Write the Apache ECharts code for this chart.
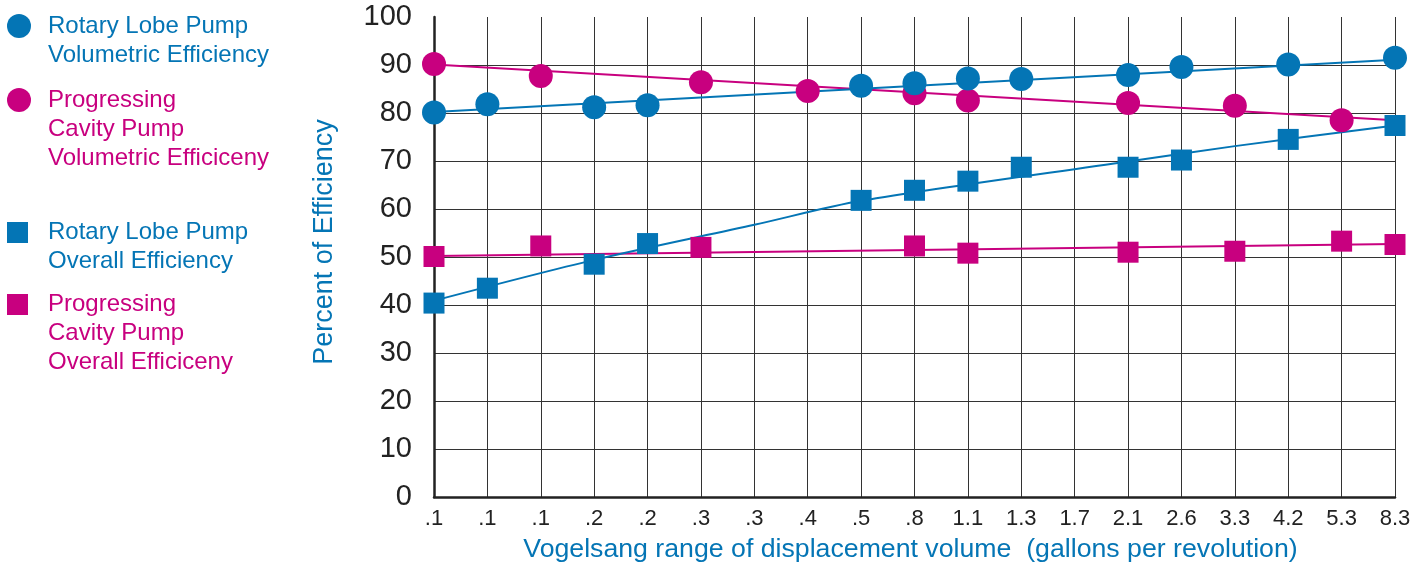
<!DOCTYPE html>
<html>
<head>
<meta charset="utf-8">
<script src="https://cdn.jsdelivr.net/npm/echarts@6/dist/echarts.min.js"></script>
<style>
  html, body { margin: 0; padding: 0; background: #fff; }
  #chart { width: 1424px; height: 565px; }
</style>
</head>
<body>
<div id="chart"></div>
<script>
// x categories (displacement volume, gallons per revolution)
const categories = ['.1', '.1', '.1', '.2', '.2', '.3', '.3', '.4', '.5', '.8', '1.1', '1.3', '1.7', '2.1', '2.6', '3.3', '4.2', '5.3', '8.3'];

// measured points, null where no marker
const rotaryVolumetric = [80.1, 81.8, null, 81.2, 81.6, null, null, null, 85.7, 86.2, 87.2, 87.1, null, 87.9, 89.6, null, 90.1, null, 91.5];
const progressingVolumetric = [90.2, null, 87.7, null, null, 86.4, null, 84.6, null, 84.1, 82.6, null, null, 82.1, null, 81.5, null, 78.5, null];
const rotaryOverall = [40.4, 43.5, null, 48.5, 52.8, null, null, null, 61.8, 63.9, 65.8, 68.7, null, 68.7, 70.2, null, 74.5, null, 77.4];
const progressingOverall = [50.1, null, 52.3, null, null, 52.0, null, null, null, 52.3, 50.8, null, null, 51.0, null, 51.2, null, 53.3, 52.6];

// trend lines
const rotaryVolumetricTrend = [80.2, null, null, null, null, null, null, null, null, null, null, null, null, null, null, null, null, null, 91.1];
const progressingVolumetricTrend = [90.1, null, null, null, null, null, null, null, null, null, null, null, null, null, null, null, null, null, 78.5];
const rotaryOverallTrend = [40.9, null, null, 49.4, null, null, 56.7, null, 61.7, null, null, null, null, 69.9, null, 73.1, null, null, 77.4];
const progressingOverallTrend = [50.2, null, null, null, null, null, null, null, null, null, null, null, null, null, null, null, null, null, 52.7];

const BLUE = '#0475b5';
const MAGENTA = '#c8007f';
const FONT = 'Liberation Sans, Arial, Helvetica, sans-serif';

// legend text lines; blank lines in front keep the icon level with the first line
const legendLabels = {
  'Rotary Lobe Pump Volumetric Efficiency': ['Rotary Lobe Pump', 'Volumetric Efficiency'],
  'Progressing Cavity Pump Volumetric Efficiency': ['Progressing', 'Cavity Pump', 'Volumetric Efficiceny'],
  'Rotary Lobe Pump Overall Efficiency': ['Rotary Lobe Pump', 'Overall Efficiency'],
  'Progressing Cavity Pump Overall Efficiency': ['Progressing', 'Cavity Pump', 'Overall Efficiceny']
};

function legendFor(name, icon, size, color, iconY, padLeft) {
  const lines = legendLabels[name];
  const blank = new Array(lines.length - 1).fill(' ');
  return {
    top: iconY - (2 * lines.length - 1) * 29 / 2,
    left: 7,
    padding: 0,
    selectedMode: false,
    itemWidth: size,
    itemHeight: size,
    icon: icon,
    data: [name],
    formatter: () => blank.concat(lines).join('\n'),
    textStyle: {
      color: color,
      fontSize: 24,
      lineHeight: 29,
      fontFamily: FONT,
      padding: [0, 0, 0, padLeft]
    }
  };
}

function trend(data, color) {
  return {
    type: 'line',
    data: data,
    connectNulls: true,
    showSymbol: false,
    smooth: 0.3,
    silent: true,
    z: 2,
    lineStyle: { color: color, width: 2 }
  };
}

function points(name, data, symbol, size, color) {
  return {
    name: name,
    type: 'scatter',
    data: data,
    symbol: symbol,
    symbolSize: size,
    z: 3,
    itemStyle: { color: color, opacity: 1 }
  };
}

const chart = echarts.init(document.getElementById('chart'), null, { renderer: 'canvas' });
chart.setOption({
  animation: false,
  backgroundColor: '#fff',
  textStyle: { fontFamily: FONT },
  legend: [
    legendFor('Rotary Lobe Pump Volumetric Efficiency', 'circle', 24, BLUE, 26, 12),
    legendFor('Progressing Cavity Pump Volumetric Efficiency', 'circle', 24, MAGENTA, 100, 12),
    legendFor('Rotary Lobe Pump Overall Efficiency', 'rect', 21, BLUE, 232.5, 15),
    legendFor('Progressing Cavity Pump Overall Efficiency', 'rect', 21, MAGENTA, 304.5, 15)
  ],
  grid: { left: 434, right: 29, top: 17, bottom: 68, containLabel: false, outerBoundsMode: 'none' },
  xAxis: {
    type: 'category',
    data: categories,
    boundaryGap: false,
    name: 'Vogelsang range of displacement volume  (gallons per revolution)',
    nameLocation: 'middle',
    nameGap: 39,
    nameTextStyle: { color: BLUE, fontSize: 26.7, fontFamily: FONT, padding: [0, 8, 0, 0] },
    axisLine: { lineStyle: { color: '#222', width: 2.5 } },
    axisTick: { show: false },
    axisLabel: { interval: 0, color: '#222', fontSize: 22, margin: 11, fontFamily: FONT },
    splitLine: { show: true, lineStyle: { color: '#333', width: 1 } }
  },
  yAxis: {
    type: 'value',
    min: 0,
    max: 100,
    interval: 10,
    name: 'Percent of Efficiency',
    nameLocation: 'middle',
    nameGap: 96,
    nameTextStyle: { color: BLUE, fontSize: 27, fontFamily: FONT, padding: [0, 0, 0, 30] },
    axisLine: { show: true, lineStyle: { color: '#222', width: 2.5 } },
    axisTick: { show: false },
    axisLabel: { color: '#222', fontSize: 29, margin: 22, fontFamily: FONT },
    splitLine: { show: true, showMaxLine: false, lineStyle: { color: '#333', width: 1 } }
  },
  series: [
    trend(progressingOverallTrend, MAGENTA),
    trend(rotaryOverallTrend, BLUE),
    trend(progressingVolumetricTrend, MAGENTA),
    trend(rotaryVolumetricTrend, BLUE),
    points('Progressing Cavity Pump Overall Efficiency', progressingOverall, 'rect', 21, MAGENTA),
    points('Rotary Lobe Pump Overall Efficiency', rotaryOverall, 'rect', 21, BLUE),
    points('Progressing Cavity Pump Volumetric Efficiency', progressingVolumetric, 'circle', 24, MAGENTA),
    points('Rotary Lobe Pump Volumetric Efficiency', rotaryVolumetric, 'circle', 24, BLUE)
  ]
});
</script>
</body>
</html>
